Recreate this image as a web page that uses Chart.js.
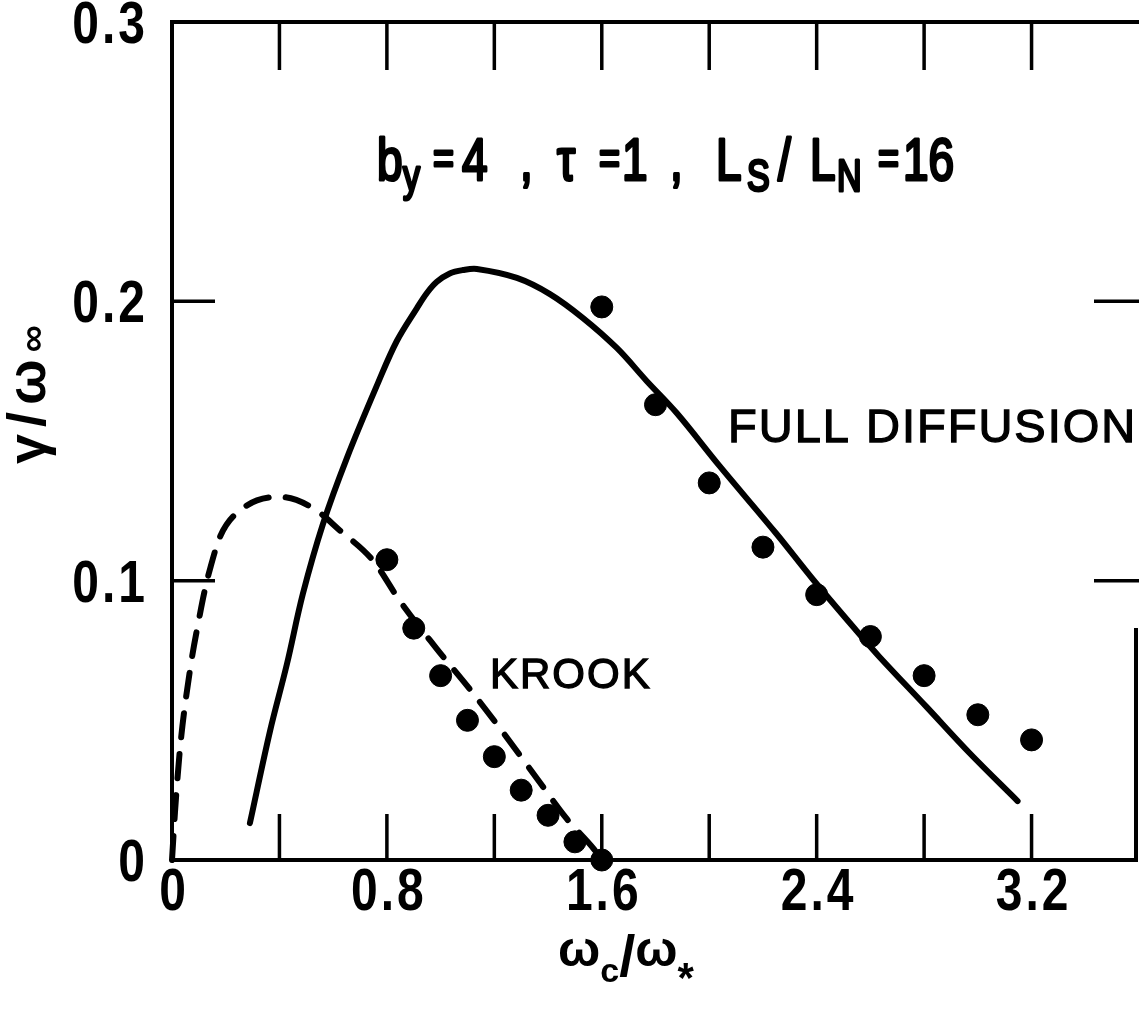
<!DOCTYPE html>
<html>
<head>
<meta charset="utf-8">
<script src="https://cdn.jsdelivr.net/npm/chart.js@4.4.1/dist/chart.umd.min.js"></script>
<style>
  html, body { margin: 0; padding: 0; background: #fff; overflow: hidden; }
  canvas { display: block; }
</style>
</head>
<body>
<canvas id="chart" width="1139" height="1015"></canvas>
<script>
// full diffusion curve (solid)
const fullX = [0.290, 0.365, 0.428, 0.487, 0.562, 0.651, 0.767, 0.837, 0.912, 0.949, 0.986, 1.034, 1.083, 1.135, 1.284, 1.407, 1.529, 1.656, 1.767, 1.879, 2.039, 2.251, 2.385, 2.549, 2.634, 2.809, 2.969, 3.148];
const fullY = [0.0132, 0.0462, 0.0702, 0.0952, 0.1203, 0.1439, 0.1708, 0.1858, 0.1976, 0.2030, 0.2070, 0.2100, 0.2112, 0.2116, 0.2084, 0.2026, 0.1941, 0.1833, 0.1715, 0.1600, 0.1410, 0.1167, 0.1006, 0.0820, 0.0727, 0.0548, 0.0383, 0.0211];

// krook curve (dashed)
const krookX = [0.0, 0.011, 0.03, 0.067, 0.104, 0.123, 0.141, 0.18, 0.265, 0.40, 0.525, 0.625, 0.75, 0.85, 0.985, 1.11, 1.23, 1.36, 1.47, 1.57, 1.60];
const krookY = [0.0, 0.017, 0.040, 0.068, 0.088, 0.097, 0.104, 0.116, 0.126, 0.130, 0.126, 0.118, 0.107, 0.0925, 0.0757, 0.061, 0.046, 0.029, 0.0147, 0.004, 0.0];

// dots
const fullDotX = [1.6, 1.8, 2.0, 2.2, 2.4, 2.6, 2.8, 3.0, 3.2];
const fullDotY = [0.198, 0.163, 0.135, 0.112, 0.095, 0.080, 0.066, 0.052, 0.043];
const krookDotX = [0.8, 0.9, 1.0, 1.1, 1.2, 1.3, 1.4, 1.5, 1.6];
const krookDotY = [0.1075, 0.083, 0.066, 0.050, 0.037, 0.025, 0.016, 0.0065, 0.0];

// axes
const xTickMarks = [0.4, 0.8, 1.2, 1.6, 2.0, 2.4, 2.8, 3.2];
const yTickMarks = [0.1, 0.2];
const xTickLabels = ["0", "0.8", "1.6", "2.4", "3.2"];
const yTickLabels = ["0", "0.1", "0.2", "0.3"];

const FONT = '"Liberation Sans", Arial, sans-serif';

const pts = (xs, ys) => xs.map((x, i) => ({ x: x, y: ys[i] }));

// one piece of text, stretched upward from its baseline, optional outline to thicken it
const tallText = (ctx, text, x, y, font, sy, align, thick) => {
    ctx.save();
    ctx.font = font;
    ctx.translate(x, y);
    ctx.scale(1, sy);
    ctx.textAlign = align || 'left';
    ctx.textBaseline = 'alphabetic';
    ctx.fillText(text, 0, 0);
    if (thick) {
        ctx.lineWidth = thick;
        ctx.lineJoin = 'round';
        ctx.strokeText(text, 0, 0);
    }
    ctx.restore();
};

// draws pieces of text one after another, [text, font, dy]
const drawParts = (ctx, parts, x, y) => {
    let cx = x;
    parts.forEach(([t, font, dy]) => {
        ctx.font = font;
        ctx.fillText(t, cx, y + dy);
        cx += ctx.measureText(t).width;
    });
    return cx;
};

const framePlugin = {
    id: 'frame',
    afterDraw(chart) {
        const ctx = chart.ctx;
        const a = chart.chartArea;
        const xs = chart.scales.x;
        const ys = chart.scales.y;
        ctx.save();
        ctx.strokeStyle = '#000';
        ctx.fillStyle = '#000';
        ctx.lineCap = 'square';

        // box
        ctx.lineWidth = 4;
        ctx.beginPath();
        ctx.moveTo(a.left, a.top);
        ctx.lineTo(a.left, a.bottom);
        ctx.lineTo(a.right - 3, a.bottom);
        ctx.moveTo(a.left, a.top);
        ctx.lineTo(a.right, a.top);
        ctx.moveTo(a.right - 3, a.bottom);
        ctx.lineTo(a.right - 3, a.bottom - 230);
        ctx.stroke();

        // inward ticks
        ctx.lineWidth = 3.5;
        ctx.lineCap = 'butt';
        ctx.beginPath();
        xTickMarks.forEach((v) => {
            const px = xs.getPixelForValue(v);
            ctx.moveTo(px, a.bottom);
            ctx.lineTo(px, a.bottom - 46);
            ctx.moveTo(px, a.top);
            ctx.lineTo(px, a.top + 48);
        });
        yTickMarks.forEach((v) => {
            const py = ys.getPixelForValue(v);
            ctx.moveTo(a.left, py);
            ctx.lineTo(a.left + 43, py);
            ctx.moveTo(a.right, py);
            ctx.lineTo(a.right - 45, py);
        });
        ctx.stroke();

        // tick labels
        ctx.letterSpacing = '3px';
        const tickFont = 'bold 48px ' + FONT;
        xTickLabels.forEach((t) => {
            tallText(ctx, t, xs.getPixelForValue(parseFloat(t)) + 2, a.bottom + 50, tickFont, 1.25, 'center');
        });
        yTickLabels.forEach((t) => {
            tallText(ctx, t, a.left - 24, ys.getPixelForValue(parseFloat(t)) + 21, tickFont, 1.25, 'right');
        });
        ctx.letterSpacing = '0px';

        // x title
        ctx.textAlign = 'left';
        ctx.textBaseline = 'alphabetic';
        drawParts(ctx, [
            ['ω', 'bold 50px ' + FONT, 0],
            ['c', 'bold 34px ' + FONT, 16],
            ['/', 'bold 58px ' + FONT, 10],
            ['ω', 'bold 50px ' + FONT, 0],
            ['*', 'bold 42px ' + FONT, 26]
        ], 558, 966);

        // y title, rotated
        ctx.save();
        ctx.translate(45, 464);
        ctx.rotate(-Math.PI / 2);
        ctx.letterSpacing = '7px';
        drawParts(ctx, [
            ['γ/ω', 'bold 54px ' + FONT, 0],
            ['∞', 'bold 38px ' + FONT, 0]
        ], 0, 0);
        ctx.restore();

        // parameters line
        const M = '46px ' + FONT;
        const S = '34px ' + FONT;
        const E = '36px ' + FONT;
        const params = [
            ['b', 377, M, 0], ['y', 403, S, 11], ['=', 433, E, -6], ['4', 462, M, 0], [',', 520, M, 0],
            ['τ', 557, M, 0], ['=', 599, E, -6], ['1', 622, M, 0], [',', 670, M, 0],
            ['L', 716, M, 0], ['S', 747, S, 11], ['/', 778, M, 0], ['L', 810, M, 0], ['N', 837, S, 11],
            ['=', 878, E, -6], ['16', 903, M, 0]
        ];
        params.forEach(([t, x, font, dy]) => tallText(ctx, t, x, 180 + dy, font, 1.3, 'left', 2.4));

        // curve labels
        ctx.lineWidth = 1.3;
        ctx.letterSpacing = '2px';
        ctx.font = '47px ' + FONT;
        ctx.fillText('FULL DIFFUSION', 728, 442);
        ctx.strokeText('FULL DIFFUSION', 728, 442);
        ctx.font = '42px ' + FONT;
        ctx.fillText('KROOK', 490, 688);
        ctx.strokeText('KROOK', 490, 688);
        ctx.restore();
    }
};

const context = document.getElementById('chart').getContext('2d');
const chart = new Chart(context, {
    type: 'scatter',
    data: {
        datasets: [
            {
                label: 'full diffusion',
                data: pts(fullX, fullY),
                showLine: true,
                borderColor: '#000',
                borderWidth: 6,
                borderCapStyle: 'round',
                borderJoinStyle: 'round',
                pointRadius: 0,
                tension: 0.35,
                clip: false
            },
            {
                label: 'krook',
                data: pts(krookX, krookY),
                showLine: true,
                borderColor: '#000',
                borderWidth: 6,
                borderDash: [24, 17],
                borderCapStyle: 'round',
                pointRadius: 0,
                cubicInterpolationMode: 'monotone',
                clip: false
            },
            {
                label: 'full diffusion points',
                data: pts(fullDotX, fullDotY),
                backgroundColor: '#000',
                borderColor: '#000',
                pointRadius: 11,
                clip: false
            },
            {
                label: 'krook points',
                data: pts(krookDotX, krookDotY),
                backgroundColor: '#000',
                borderColor: '#000',
                pointRadius: 11,
                clip: false
            }
        ]
    },
    options: {
        responsive: false,
        animation: false,
        layout: { autoPadding: false, padding: { left: 172, top: 22, right: 0, bottom: 155 } },
        plugins: {
            legend: { display: false },
            tooltip: { enabled: false }
        },
        scales: {
            x: { type: 'linear', min: 0, max: 3.6, display: false },
            y: { type: 'linear', min: 0, max: 0.3, display: false }
        }
    },
    plugins: [framePlugin]
});
</script>
</body>
</html>
